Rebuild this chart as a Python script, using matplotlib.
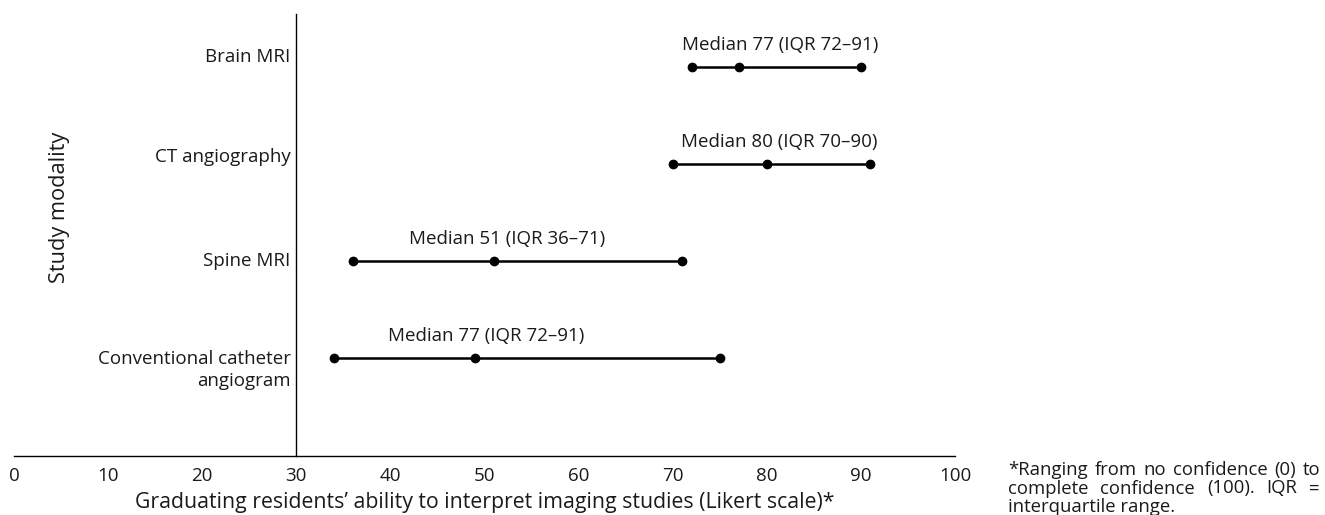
import numpy as np
import matplotlib.pyplot as plt
from matplotlib.transforms import offset_copy

plt.rcParams['font.family'] = ['Open Sans', 'DejaVu Sans']

# data
modalities = ['Brain MRI', 'CT angiography', 'Spine MRI', 'Conventional catheter\nangiogram']
q1 = [72, 70, 36, 34]
median = [77, 80, 51, 49]
q3 = [90, 91, 71, 75]
labels = ['Median 77 (IQR 72\u201391)', 'Median 80 (IQR 70\u201390)',
          'Median 51 (IQR 36\u201371)', 'Median 77 (IQR 72\u201391)']
label_x = [81.4, 81.3, 52.4, 50.2]
cat_dy = [7, 5, 0, 0]   # small vertical nudges (pt) of the category names
xticks = [0, 10, 20, 30, 40, 50, 60, 70, 80, 90, 100]

fig = plt.figure(figsize=(13.25, 5.15), dpi=100)
W, H = 1325, 515
ax = fig.add_axes([14 / W, 1 - 456 / H, (955 - 14) / W, (456 - 14) / H])

ypos = np.arange(len(modalities))[::-1] + 1.0

for y, a, m, b, lab, lx in zip(ypos, q1, median, q3, labels, label_x):
    ax.plot([a, b], [y, y], color='black', lw=1.8, solid_capstyle='butt', zorder=2)
    ax.plot([a, m, b], [y, y, y], 'o', color='black', ms=6, zorder=3)
    ax.annotate(lab, (lx, y), xytext=(0, 15.5), textcoords='offset points',
                ha='center', va='center', fontsize=13.5, color='#1a1a1a')

# category labels left of the vertical line
for y, name, dy in zip(ypos, modalities, cat_dy):
    if '\n' in name:
        tr = offset_copy(ax.transData, fig=fig, x=0, y=6, units='points')
        ax.text(29.4, y, name, ha='right', va='top', fontsize=13.5, color='#1a1a1a',
                multialignment='right', transform=tr, linespacing=1.3)
    else:
        tr = offset_copy(ax.transData, fig=fig, x=0, y=dy, units='points')
        ax.text(29.4, y, name, ha='right', va='center', fontsize=13.5,
                color='#1a1a1a', transform=tr)

ax.set_xlim(0, 100)
ax.set_ylim(-0.01, 4.546)
ax.set_xticks(xticks)
ax.tick_params(axis='x', length=0, pad=8, labelsize=13.5, labelcolor='#1a1a1a')
ax.set_yticks([])
ax.spines['top'].set_visible(False)
ax.spines['right'].set_visible(False)
ax.spines['left'].set_position(('data', 30))
ax.spines['left'].set_linewidth(1.0)
ax.spines['bottom'].set_linewidth(1.0)
ax.set_xlabel('Graduating residents\u2019 ability to interpret imaging studies (Likert scale)*',
              fontsize=15.3, labelpad=5, color='#1a1a1a')
fig.text(60 / W, 1 - 207 / H, 'Study modality', rotation=90, ha='center', va='center',
         fontsize=15.7, color='#1a1a1a')

# justified footnote
foot = [('*Ranging from no confidence (0) to', True),
        ('complete confidence (100). IQR =', True),
        ('interquartile range.', False)]
fx0, fx1 = 1008, 1320
fig.canvas.draw()
r = fig.canvas.get_renderer()
for i, (line, just) in enumerate(foot):
    yc = 1 - (470 + 18.5 * i) / H
    words = line.split(' ')
    if not just:
        fig.text(fx0 / W, yc, line, fontsize=13.3, va='center', ha='left', color='#1a1a1a')
        continue
    objs = [fig.text(0, yc, w, fontsize=13.3, va='center', ha='left', color='#1a1a1a')
            for w in words]
    widths = [o.get_window_extent(r).width for o in objs]
    gap = (fx1 - fx0 - sum(widths)) / (len(words) - 1)
    x = fx0
    for o, w in zip(objs, widths):
        o.set_x(x / W)
        x += w + gap

fig.savefig('out.png', dpi=100)
